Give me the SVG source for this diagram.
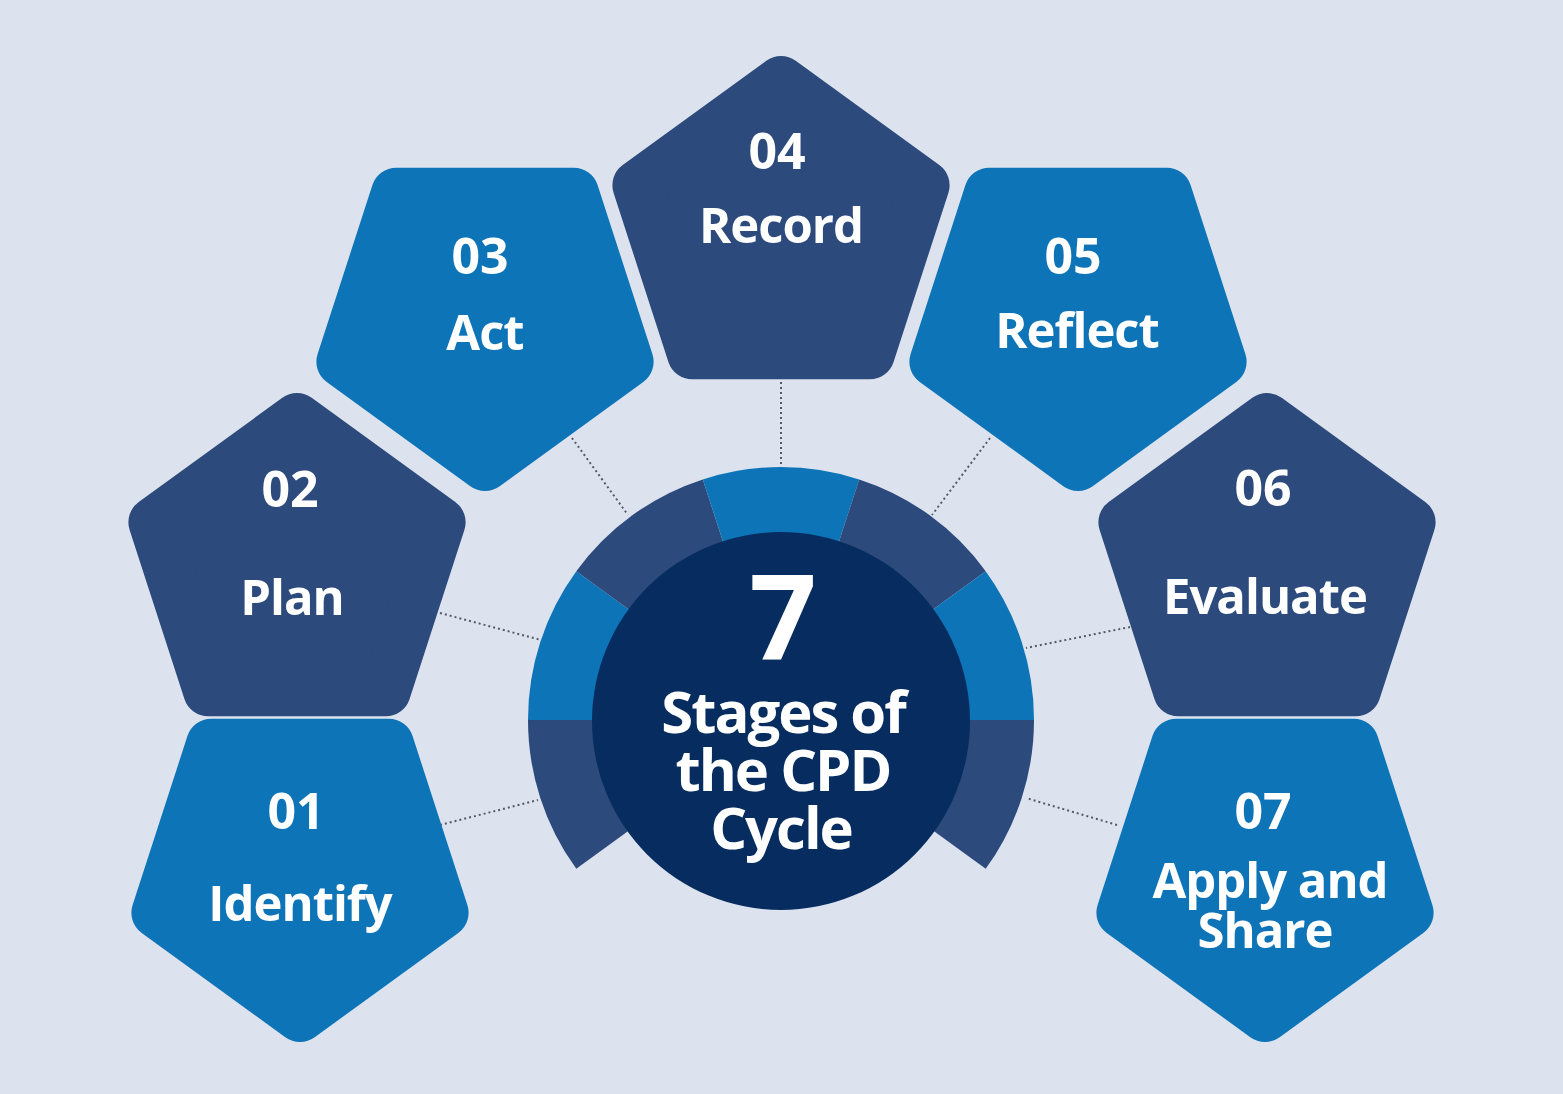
<svg xmlns="http://www.w3.org/2000/svg" width="1563" height="1094" viewBox="0 0 1563 1094">
<defs>
<style>
.lt{fill:#0e74b8;stroke:#0e74b8;stroke-width:50;stroke-linejoin:round}
.dk{fill:#2c4a7c;stroke:#2c4a7c;stroke-width:50;stroke-linejoin:round}
.sl{fill:#0e74b8}.sd{fill:#2c4a7c}
text{font-family:"Open Sans","Liberation Sans",sans-serif;font-weight:700;fill:#fff;text-anchor:middle}
.n{font-size:50px}.l{font-size:49px;letter-spacing:-1px}
.c{stroke:#555a66;stroke-width:2;stroke-dasharray:2 3;fill:none}
</style>
<polygon id="up" points="0,-151 143.6,-46.7 88.8,122.2 -88.8,122.2 -143.6,-46.7"/>
<polygon id="down" points="0,151 143.6,46.7 88.8,-122.2 -88.8,-122.2 -143.6,46.7"/>
</defs>
<rect width="1563" height="1094" fill="#dde3ee"/>
<g id="connectors">
<line class="c" x1="781" y1="377" x2="781" y2="465"/>
<line class="c" x1="572" y1="438" x2="628" y2="515"/>
<line class="c" x1="990" y1="438" x2="932" y2="515"/>
<line class="c" x1="440" y1="613" x2="541" y2="640"/>
<line class="c" x1="1130" y1="627" x2="1026" y2="648"/>
<line class="c" x1="440" y1="825" x2="538" y2="800"/>
<line class="c" x1="1117" y1="825" x2="1026" y2="798"/>
</g>
<g id="ring">
<path class="sd" d="M781 720 L576.3 868.8 A253 253 0 0 1 528 720 Z"/>
<path class="sl" d="M781 720 L528 720 A253 253 0 0 1 576.3 571.2 Z"/>
<path class="sd" d="M781 720 L576.3 571.2 A253 253 0 0 1 702.8 479.4 Z"/>
<path class="sl" d="M781 720 L702.8 479.4 A253 253 0 0 1 859.2 479.4 Z"/>
<path class="sd" d="M781 720 L859.2 479.4 A253 253 0 0 1 985.7 571.2 Z"/>
<path class="sl" d="M781 720 L985.7 571.2 A253 253 0 0 1 1034 720 Z"/>
<path class="sd" d="M781 720 L1034 720 A253 253 0 0 1 985.7 868.8 Z"/>
</g>
<g id="center">
<circle cx="781" cy="721" r="189" fill="#072d60"/>
<text x="783" y="660" style="font-size:118px">7</text>
<text x="783" y="733" style="font-size:58px;letter-spacing:-2px">Stages of</text>
<text x="783" y="791" style="font-size:58px;letter-spacing:-2px">the CPD</text>
<text x="781" y="849" style="font-size:58px;letter-spacing:-2px">Cycle</text>
</g>
<g id="n04"><use href="#up" class="dk" x="781" y="232"/><text class="n" x="777" y="169">04</text><text class="l" x="781" y="243">Record</text></g>
<g id="n03"><use href="#down" class="lt" x="485" y="315"/><text class="n" x="480" y="274">03</text><text class="l" x="485" y="350">Act</text></g>
<g id="n05"><use href="#down" class="lt" x="1078" y="315"/><text class="n" x="1073" y="274">05</text><text class="l" x="1077" y="348">Reflect</text></g>
<g id="n02"><use href="#up" class="dk" x="297" y="569"/><text class="n" x="290" y="507">02</text><text class="l" x="292" y="615">Plan</text></g>
<g id="n06"><use href="#up" class="dk" x="1267" y="569"/><text class="n" x="1263" y="506">06</text><text class="l" x="1265" y="614">Evaluate</text></g>
<g id="n01"><use href="#down" class="lt" x="300" y="866"/><text class="n" x="296" y="829">01</text><text class="l" x="300" y="921">Identify</text></g>
<g id="n07"><use href="#down" class="lt" x="1265" y="866"/><text class="n" x="1263" y="829">07</text><text class="l" x="1270" y="898">Apply and</text><text class="l" x="1265" y="948">Share</text></g>
</svg>
